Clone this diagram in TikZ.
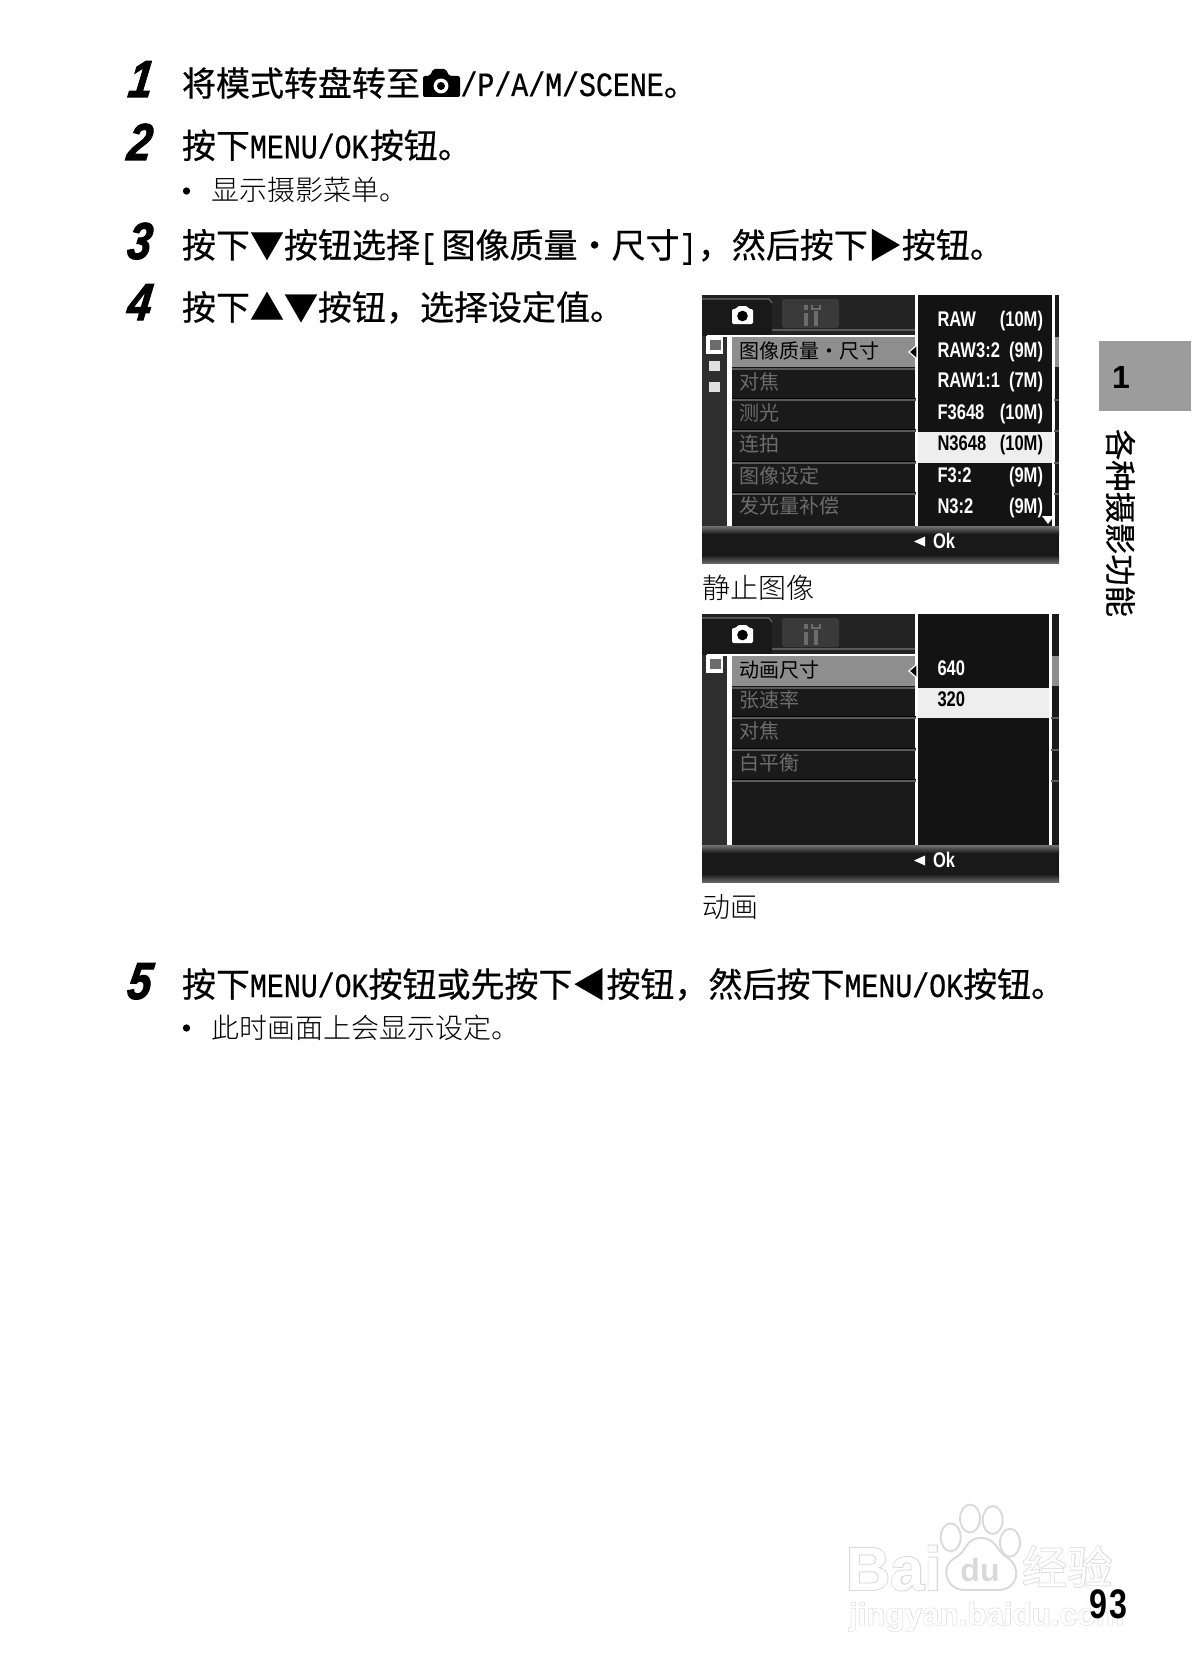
\documentclass[tikz,border=0pt]{standalone}
\usepackage{fontspec}
\setmainfont{Noto Sans CJK SC}
\newfontfamily\mainf[FakeBold=0.5]{Noto Sans CJK SC}
\newfontfamily\lightf[UprightFont=* Light]{Noto Sans CJK SC}
\newfontfamily\lat[FakeStretch=0.83,FakeBold=0.6]{Liberation Mono}
\newfontfamily\uib[FakeStretch=0.78,UprightFont=* Bold]{Liberation Sans}
\newfontfamily\stepf[FakeStretch=0.82,FakeSlant=0.14,FakeBold=2,UprightFont=* Bold Italic]{Liberation Sans}
\newfontfamily\wmf[UprightFont=* Bold]{Liberation Sans}
\newfontfamily\wmglow[FakeBold=3,UprightFont=* Bold]{Liberation Sans}
\newfontfamily\wmcjk[FakeBold=3]{Noto Sans CJK SC}
\definecolor{scrbg}{HTML}{1A1A1A}
\definecolor{scrtop}{HTML}{232323}
\definecolor{scrside}{HTML}{2E2E2E}
\definecolor{scrblack}{HTML}{131313}
\definecolor{scrsel}{HTML}{8E8E8E}
\definecolor{scrdim}{HTML}{6C6C6C}
\definecolor{scrline}{HTML}{5A5A5A}
\definecolor{scrhi}{HTML}{EEEEEE}
\definecolor{scrtab}{HTML}{3A3A3A}
\definecolor{sidetab}{HTML}{9C9C9C}
\definecolor{wmline}{HTML}{D9D9D9}
\tikzset{
  txt/.style={anchor=base west,inner sep=0pt,outer sep=0pt},
  main/.style={txt,font=\mainf\fontsize{25.5pt}{30pt}\selectfont},
  sub/.style={txt,font=\lightf\fontsize{21pt}{25pt}\selectfont},
  stepnum/.style={txt,font=\stepf\fontsize{39pt}{44pt}\selectfont},
  menu/.style={txt,text=scrdim,font=\fontsize{15pt}{18pt}\selectfont},
  val/.style={txt,text=white,font=\uib\fontsize{15.9pt}{19pt}\selectfont},
  valr/.style={val,anchor=base east},
  pawline/.style={draw=wmline,fill=white,line width=1.4pt},
}
% #1 prefix, #2 x of right white line
\newcommand{\screenframe}[2]{%
  \fill[scrbg] (701,295) rectangle (1058,563);
  \fill[scrtop] (701,295) rectangle (915,335);
  % tabs
  \fill[black!90] (701,299) -- (768,299) -- (771,303) -- (771,335) -- (701,335) -- cycle;
  \draw[scrdim,line width=.8pt] (701,299) -- (768,299) -- (771,303);
  \fill[scrtab,rounded corners=2pt] (781,299) rectangle (838,328);
  \draw[scrline,line width=.8pt] (771,330) -- (915,330);
  % camera icon on the tab
  \fill[white,rounded corners=1pt] (731,309) -- (735,309) -- (737,306) -- (746,306) -- (748,309) -- (752,309) -- (752,324) -- (731,324) -- cycle;
  \fill[black] (741.5,316) circle (4pt);
  % tools icon
  \fill[scrdim] (803,313) rectangle (807,326);
  \fill[scrdim] (803,305) rectangle (807,310);
  \fill[scrdim] (813,311) rectangle (817,326);
  \draw[scrdim,line width=1.5pt] (811,305) -- (811,309) -- (819,309) -- (819,305);
  % sidebar
  \fill[scrside] (701,336) rectangle (726,526);
  \fill[white] (726,335) rectangle (730.5,526);
  \fill[white] (706,335) rectangle (915,337);
  \fill[white] (705,336) rectangle (722,354);
  % selected row
  \fill[scrsel] (730.5,337) rectangle (915,367);
  \fill[scrsel] (#2,337) rectangle (1058,367);
  \draw[scrblack,line width=.8pt] (730.5,367.5) -- (915,367.5);
  \draw[scrline,line width=.8pt] (730.5,369) -- (915,369);
  % right column
  \fill[scrblack] (916,295) rectangle (#2,526);
  \fill[white] (914,295) rectangle (916.5,526);
  \fill[white] (#2,295) rectangle (\the\numexpr#2+2\relax.5,526);
  % bottom bar
  \shade[top color=black!55,bottom color=black!90] (701,526) rectangle (1058,534);
  \fill[black!90] (701,534) rectangle (1058,555);
  \shade[top color=black!90,bottom color=black!60] (701,555) rectangle (1058,563);
  \fill[white] (913,541.5) -- (924,536.5) -- (924,546.5) -- cycle;
  \node[txt,text=white,font=\uib\fontsize{15.9pt}{19pt}\selectfont] (#1ok) at (932,548.5) {Ok};
  \filldraw[draw=white,fill=black,line width=.9pt] (916,345) -- (908,352) -- (916,359) -- cycle;
}
\newcommand{\rowlines}[2]{%
  \foreach \yy in {#2} {
    \draw[black,line width=.8pt] (730.5,\yy-1.5) -- (915,\yy-1.5);
    \draw[scrline,line width=.8pt] (730.5,\yy) -- (915,\yy);
    \draw[scrline,line width=.8pt] (#1,\yy) -- (1058,\yy);
  }%
}
\begin{document}
\begin{tikzpicture}[x=0.75pt,y=-0.75pt]
\useasboundingbox (0,0) rectangle (1192,1680);
\fill[white] (0,0) rectangle (1192,1680);

% step numerals
\node[stepnum] (n1) at (127,97) {1};
\node[stepnum] (n2) at (126,160) {2};
\node[stepnum] (n3) at (126,259) {3};
\node[stepnum] (n4) at (126,320) {4};
\node[stepnum] (n5) at (126,999) {5};

% main text
\node[main] (l1a) at (182,96) {将模式转盘转至};
\begin{scope}
  \fill[black,rounded corners=1.5pt] (423,76) -- (430,76) -- (433,69) -- (446,69) -- (449,76) -- (460,76) -- (460,97) -- (423,97) -- cycle;
  \fill[white] (441,86) circle (5.6pt);
  \fill[black] (441,86) circle (3pt);
\end{scope}
\node[main] (l1b) at (460.5,96) {{\lat /P/A/M/SCENE}。};
\node[main] (l2) at (182,158.2) {按下{\lat MENU/OK}\kern1pt 按钮。};
\node[sub] (l2s) at (211,200.5) {显示摄影菜单。};
\node[circle,fill=black,inner sep=0pt,minimum size=5.5pt] (b1) at (186.5,191) {};
\node[main] (l3) at (182,257.8) {按下▼按钮选择{\lat [}\kern3.5pt 图像质量・尺寸{\lat ]}\kern1pt ，然后按下▶按钮。};
\node[main] (l4) at (182,320) {按下▲▼按钮，选择设定值。};
\node[main] (l5) at (182,997) {按下{\lat MENU/OK}按钮或先按下◀按钮，然后按下{\lat MENU/OK}按钮。};
\node[sub] (l5s) at (211,1038) {此时画面上会显示设定。};
\node[circle,fill=black,inner sep=0pt,minimum size=5.5pt] (b2) at (186.5,1028) {};

% screen 1
\begin{scope}[shift={(1,0)}]
\screenframe{a}{1051}
\rowlines{1053}{400,431,463,494}
\fill[scrdim] (709,340) rectangle (720,350);
\fill[white!88!black] (708,361) rectangle (719,371);
\fill[white!88!black] (708,382) rectangle (719,392);
\fill[scrhi] (916.5,431.5) rectangle (1051,462.5);
\fill[white] (1041,516) -- (1053,516) -- (1047,524) -- cycle;
\node[menu,text=black] (am1) at (738,358) {图像质量・尺寸};
\node[menu] (am2) at (738,389) {对焦};
\node[menu] (am3) at (738,420) {测光};
\node[menu] (am4) at (738,451) {连拍};
\node[menu] (am5) at (738,483) {图像设定};
\node[menu] (am6) at (738,513) {发光量补偿};
\node[val] (av1) at (936.5,326.5) {RAW};   \node[valr] (aw1) at (1042,326.5) {(10M)};
\node[val] (av2) at (936.5,357) {RAW3:2};  \node[valr] (aw2) at (1042,357) {(9M)};
\node[val] (av3) at (936.5,387.5) {RAW1:1};\node[valr] (aw3) at (1042,387.5) {(7M)};
\node[val] (av4) at (936.5,419.5) {F3648}; \node[valr] (aw4) at (1042,419.5) {(10M)};
\node[val,text=black] (av5) at (936.5,450) {N3648}; \node[valr,text=black] (aw5) at (1042,450) {(10M)};
\node[val] (av6) at (936.5,482) {F3:2};    \node[valr] (aw6) at (1042,482) {(9M)};
\node[val] (av7) at (936.5,513) {N3:2};    \node[valr] (aw7) at (1042,513) {(9M)};
\end{scope}
\node[sub] (cap1) at (702.5,598) {静止图像};

% screen 2
\begin{scope}[shift={(1,319)}]
\screenframe{b}{1048}
\rowlines{1050}{399,431,462}
\fill[scrdim] (709,340) rectangle (720,350);
\fill[scrhi] (916.5,369) rectangle (1048,399);
\node[menu,text=black] (bm1) at (738,358) {动画尺寸};
\node[menu] (bm2) at (738,388) {张速率};
\node[menu] (bm3) at (738,419.5) {对焦};
\node[menu] (bm4) at (738,451) {白平衡};
\node[val] (bv1) at (936.5,356.5) {640};
\node[val,text=black] (bv2) at (936.5,387.5) {320};
\end{scope}
\node[sub] (cap2) at (702.5,917) {动画};

% side tab
\fill[sidetab] (1099,340.5) rectangle (1191,411);
\node[txt,font=\wmf\fontsize{24pt}{28pt}\selectfont] (chap) at (1112,388) {1};
\node[inner sep=0pt,rotate=-90,font=\mainf\fontsize{23.5pt}{28pt}\selectfont] (sidetxt) at (1120.5,523) {各种摄影功能};

% watermark
\node[txt,text=wmline,font=\wmglow\fontsize{46pt}{50pt}\selectfont] (wb1) at (846,1590) {Bai};
\node[txt,text=white,font=\wmf\fontsize{46pt}{50pt}\selectfont] (wb2) at (846,1590) {Bai};
\draw[pawline] (950.7,1537.3) ellipse (7.5pt and 10.5pt);
\draw[pawline] (970,1518.5) ellipse (7.5pt and 10.5pt);
\draw[pawline] (992.7,1520) ellipse (7.5pt and 10.5pt);
\draw[pawline] (1010,1542.7) ellipse (7.5pt and 10.5pt);
\draw[pawline] (981,1538) .. controls (965,1538) and (967,1552) .. (955,1558) .. controls (940,1566) and (945,1590) .. (965,1590) -- (998,1590) .. controls (1018,1590) and (1022,1568) .. (1008,1558) .. controls (996,1552) and (997,1538) .. (981,1538) -- cycle;
\node[anchor=center,inner sep=0pt,text=wmline,font=\wmf\fontsize{24pt}{28pt}\selectfont] (wdu) at (980,1570) {du};
\node[txt,text=wmline,font=\wmcjk\fontsize{34pt}{38pt}\selectfont] (wc1) at (1022,1584) {经验};
\node[txt,text=white,font=\fontsize{34pt}{38pt}\selectfont] (wc2) at (1022,1584) {经验};
\node[txt,text=wmline,font=\wmglow\fontsize{23.5pt}{28pt}\selectfont] (wj1) at (849,1625) {jingyan.baidu.com};
\node[txt,text=white,font=\wmf\fontsize{23.5pt}{28pt}\selectfont] (wj2) at (849,1625) {jingyan.baidu.com};

% page number
\node[txt,font=\uib\fontsize{31pt}{35pt}\selectfont] (page) at (1089,1618) {9\kern2pt 3};
\end{tikzpicture}
\end{document}
